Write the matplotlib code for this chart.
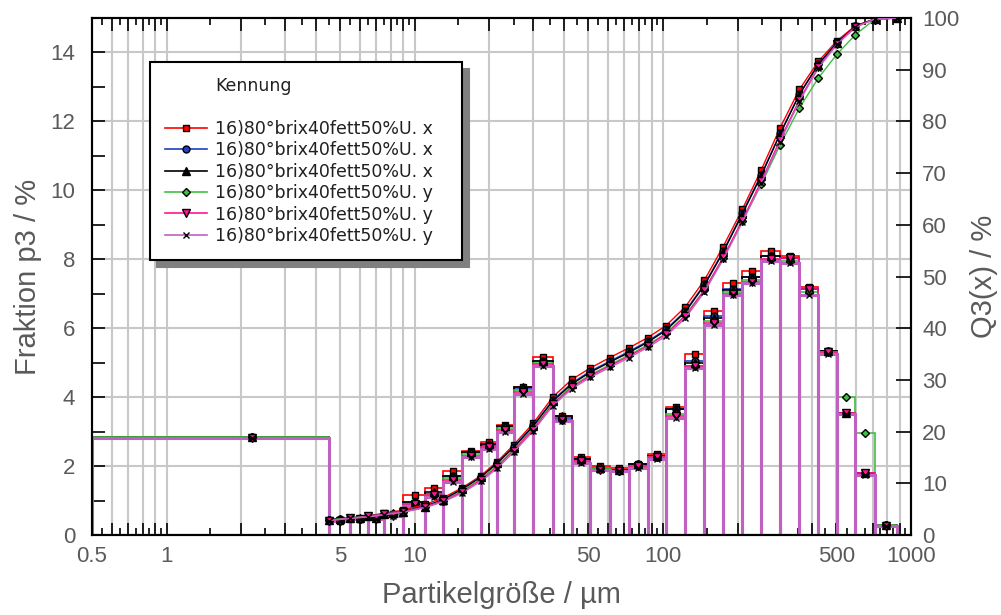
import numpy as np
import matplotlib.pyplot as plt
from matplotlib.ticker import LogLocator, FuncFormatter, MultipleLocator, NullFormatter
from matplotlib.lines import Line2D

plt.rcParams['font.family'] = ['Liberation Sans', 'DejaVu Sans']

# Klassengrenzen (µm) und Klassenmitten
edges = [0.5, 4.5, 5.5, 6.5, 7.5, 9, 11, 13, 15.5, 18.5, 21.5, 25, 30, 36, 43, 51,
         61, 73, 87, 103, 123, 147, 175, 209, 249, 297, 355, 423, 503, 597, 713, 875]
mids = [2.2, 5.0, 6.0, 7.0, 8.2, 10, 12, 14.2, 16.9, 20, 23.2, 27.4, 32.9, 39.3, 46.8,
        55.8, 66.7, 79.7, 94.7, 112.6, 134.5, 160.4, 191.3, 228.1, 271.9, 324.7,
        387.5, 461.3, 547.9, 652.3, 789.9]
q3_x = edges[1:]

labels = ["16)80°brix40fett50%U. x"] * 3 + ["16)80°brix40fett50%U. y"] * 3

# Fraktion p3 / %
p3_red = [2.85, 0.40, 0.45, 0.50, 0.60, 1.15, 1.35, 1.85, 2.45, 2.70, 3.20, 4.30, 5.15, 3.45, 2.25, 2.00,
          1.95, 2.05, 2.35, 3.70, 5.25, 6.50, 7.30, 7.65, 8.25, 8.10, 7.20, 5.35, 3.55, 1.80, 0.30]
p3_blue = [2.85, 0.45, 0.45, 0.50, 0.60, 0.95, 1.20, 1.70, 2.40, 2.60, 3.15, 4.25, 5.05, 3.40, 2.20, 1.95,
           1.90, 2.05, 2.30, 3.65, 5.05, 6.35, 7.15, 7.50, 8.10, 8.05, 7.15, 5.35, 3.55, 1.80, 0.30]
p3_black = [2.85, 0.45, 0.50, 0.50, 0.65, 0.95, 1.25, 1.70, 2.40, 2.65, 3.15, 4.30, 5.05, 3.45, 2.20, 1.95,
            1.90, 2.05, 2.30, 3.65, 5.00, 6.30, 7.10, 7.50, 8.10, 8.05, 7.15, 5.35, 3.55, 1.80, 0.30]
p3_green = [2.85, 0.40, 0.45, 0.50, 0.60, 0.90, 1.15, 1.65, 2.35, 2.55, 3.10, 4.20, 5.00, 3.35, 2.15, 1.95,
            1.85, 2.00, 2.25, 3.50, 4.90, 6.20, 7.05, 7.40, 8.00, 7.95, 7.05, 5.30, 4.00, 2.95, 0.30]
p3_pink = [2.80, 0.40, 0.45, 0.45, 0.55, 0.90, 1.15, 1.60, 2.30, 2.55, 3.05, 4.15, 4.95, 3.35, 2.15, 1.90,
           1.85, 2.00, 2.25, 3.45, 4.90, 6.15, 7.00, 7.35, 8.00, 8.05, 7.15, 5.30, 3.55, 1.80, 0.25]
p3_orchid = [2.80, 0.40, 0.45, 0.45, 0.55, 0.85, 1.10, 1.55, 2.25, 2.50, 3.00, 4.10, 4.90, 3.30, 2.10, 1.90,
             1.85, 1.95, 2.20, 3.40, 4.85, 6.10, 6.95, 7.30, 7.95, 7.90, 6.95, 5.25, 3.50, 1.75, 0.25]

# Q3(x) / %
q3_red = [2.9, 3.3, 3.7, 4.2, 4.8, 5.9, 7.2, 9.1, 11.5, 14.2, 17.4, 21.6, 26.7, 30.1, 32.3, 34.3,
          36.2, 38.2, 40.5, 44.1, 49.3, 55.8, 63.0, 70.6, 78.8, 86.2, 91.6, 95.6, 98.5, 99.8, 100.0]
q3_blue = [2.9, 3.3, 3.6, 4.1, 4.6, 5.6, 6.9, 8.9, 11.3, 14.0, 17.0, 21.2, 26.1, 29.4, 31.7, 33.6,
           35.5, 37.5, 39.8, 43.3, 48.5, 54.9, 62.3, 69.7, 77.7, 85.3, 91.1, 95.3, 98.4, 99.8, 100.0]
q3_black = [2.9, 3.3, 3.6, 4.0, 4.5, 5.5, 6.8, 8.8, 11.2, 13.9, 16.9, 21.0, 25.9, 29.2, 31.5, 33.4,
            35.3, 37.3, 39.6, 43.1, 48.3, 54.7, 62.1, 69.5, 77.6, 85.2, 91.0, 95.2, 98.4, 99.8, 100.0]
q3_green = [2.9, 3.3, 3.6, 4.0, 4.5, 5.4, 6.6, 8.5, 10.9, 13.5, 16.5, 20.6, 25.5, 28.8, 31.0, 32.9,
            34.8, 36.8, 39.0, 42.5, 47.4, 53.6, 60.7, 67.8, 75.5, 82.6, 88.4, 93.0, 96.8, 99.7, 100.0]
q3_pink = [2.8, 3.2, 3.6, 4.0, 4.5, 5.4, 6.6, 8.3, 10.7, 13.2, 16.3, 20.4, 25.3, 28.6, 30.8, 32.7,
           34.6, 36.6, 38.9, 42.3, 47.4, 53.7, 60.9, 68.4, 76.5, 84.2, 90.5, 95.0, 98.3, 99.8, 100.0]
q3_orchid = [2.8, 3.2, 3.5, 3.9, 4.4, 5.3, 6.4, 8.1, 10.4, 12.9, 16.0, 20.1, 25.0, 28.3, 30.5, 32.4,
             34.3, 36.3, 38.5, 41.9, 47.0, 53.3, 60.5, 68.0, 76.1, 83.9, 90.3, 94.9, 98.2, 99.8, 100.0]

p3_all = [p3_red, p3_blue, p3_black, p3_green, p3_pink, p3_orchid]
q3_all = [q3_red, q3_blue, q3_black, q3_green, q3_pink, q3_orchid]
colors = ['#ff0000', '#2040c0', '#000000', '#40c040', '#ff1493', '#c060c0']
markers = ['s', 'o', '^', 'D', 'v', 'x']
mfcs = ['#ff0000', '#2040c0', '#000000', '#40c040', '#ff1493', '#000000']
msizes = [5, 5, 6, 4, 6, 5]

txt = '#5a5a5a'

fig = plt.figure(figsize=(10.01, 6.15), dpi=100)
ax = fig.add_axes([0.0919, 0.1301, 0.8182, 0.8406])
ax.set_xscale('log')
ax.set_xlim(0.5, 1000)
ax.set_ylim(0, 15)
ax2 = ax.twinx()
ax2.set_ylim(0, 100)

widths = np.diff(edges)
for i in range(6):
    lw = 2.2 if i == 5 else 1.2
    ax.bar(edges[:-1], p3_all[i], width=widths, align='edge', fill=False,
           edgecolor=colors[i], linewidth=lw, zorder=2 + i * 0.1)
for i in range(6):
    ax.plot(mids, p3_all[i], ls='none', marker=markers[i], mfc=mfcs[i], mec='k',
            mew=1, ms=msizes[i], zorder=4)
    ax2.plot(q3_x, q3_all[i], color=colors[i], lw=1, marker=markers[i], mfc=mfcs[i],
             mec='k', mew=1, ms=msizes[i], zorder=3)


def fmt(v, pos):
    m = v / 10 ** np.floor(np.log10(v) + 1e-9)
    if abs(m - 1) < 1e-6 or abs(m - 5) < 1e-6:
        return f"{v:g}"
    return ""


ax.xaxis.set_major_locator(LogLocator(base=10, subs=np.arange(1, 10), numticks=50))
ax.xaxis.set_minor_locator(LogLocator(base=10, subs=np.arange(1.5, 10, 1.0), numticks=50))
ax.xaxis.set_major_formatter(FuncFormatter(fmt))
ax.xaxis.set_minor_formatter(NullFormatter())
ax.yaxis.set_major_locator(MultipleLocator(2))
ax.yaxis.set_minor_locator(MultipleLocator(1))
ax2.yaxis.set_major_locator(MultipleLocator(10))

ax.tick_params(axis='x', which='both', direction='in', top=True, bottom=True,
               labelsize=16, labelcolor=txt, pad=8, width=1.2, color='k')
ax.tick_params(axis='x', which='major', length=9)
ax.tick_params(axis='x', which='minor', length=5)
ax.tick_params(axis='y', which='both', direction='in', length=9, width=1.2,
               labelsize=16, labelcolor=txt, pad=12, right=False)
ax2.tick_params(axis='y', direction='in', length=11, width=1.2,
                labelsize=16, labelcolor=txt, pad=8)

ax.grid(True, which='major', color='#c8c8c8', linewidth=1.5)
ax.set_axisbelow(True)
for a in (ax, ax2):
    for s in a.spines.values():
        s.set_linewidth(1.5)

ax.set_xlabel('Partikelgröße / µm', fontsize=21, color=txt, labelpad=10)
ax.set_ylabel('Fraktion p3 / %', fontsize=21, color=txt, labelpad=6)
ax2.set_ylabel('Q3(x) / %', fontsize=21, color=txt, labelpad=8)

handles = [Line2D([], [], ls='none', marker=''), Line2D([], [], ls='none', marker='')]
for i in range(6):
    handles.append(Line2D([], [], color=colors[i], lw=1.2, marker=markers[i],
                          mfc=mfcs[i], mec='k', ms=msizes[i]))
leg = ax2.legend(handles, ['Kennung', ''] + labels, loc='upper left',
                 bbox_to_anchor=(0.071, 0.915, 0.381, 0.0), mode='expand',
                 borderaxespad=0,
                 prop={'family': 'DejaVu Sans', 'size': 12.5}, labelcolor='#202020',
                 handlelength=2.4, handletextpad=0.5, labelspacing=0.2,
                 borderpad=0.85, fancybox=False, framealpha=1,
                 shadow={'ox': 5, 'oy': -5, 'color': '#808080', 'alpha': 1})
leg.get_frame().set_edgecolor('k')
leg.get_frame().set_linewidth(1.5)

fig.savefig('out.png', dpi=100)
